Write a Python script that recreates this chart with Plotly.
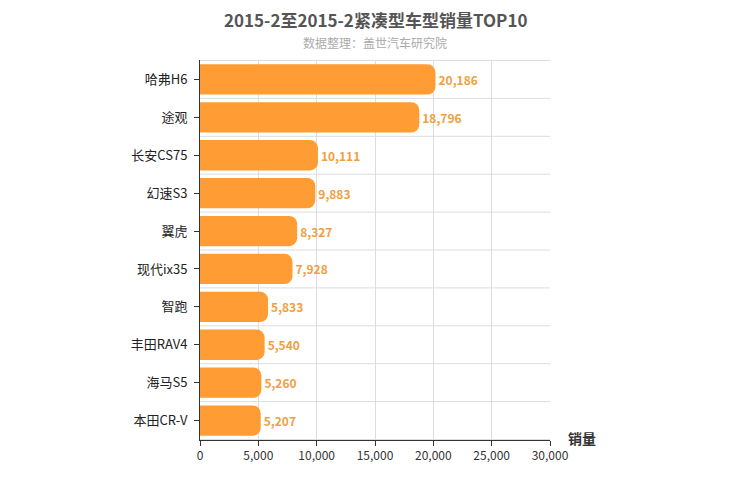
import plotly.graph_objects as go

categories = ["哈弗H6", "途观", "长安CS75", "幻速S3", "翼虎", "现代ix35", "智跑", "丰田RAV4", "海马S5", "本田CR-V"]
values = [20186, 18796, 10111, 9883, 8327, 7928, 5833, 5540, 5260, 5207]
x_ticks = [0, 5000, 10000, 15000, 20000, 25000, 30000]

font = "Noto Sans CJK SC"
fig = go.Figure(go.Bar(
    y=categories, x=values, orientation="h",
    marker=dict(color="#ff9c33", line=dict(width=0)),
    width=0.8,
    text=[f"<b>{v:,}</b>" for v in values], textposition="outside",
    textfont=dict(color="#f0a040", size=12, family=font),
    cliponaxis=False,
))
shapes = []
for i in range(len(categories) + 1):
    shapes.append(dict(type="line", xref="paper", x0=0, x1=1, yref="y", y0=i - 0.5, y1=i - 0.5,
                       line=dict(color="#dddddd", width=1), layer="below"))
PH = 380
fig.update_layout(
    width=750, height=500,
    margin=dict(l=192, r=208, t=52, b=68),
    plot_bgcolor="white", paper_bgcolor="white",
    barcornerradius=8,
    shapes=shapes,
    showlegend=False,
    font=dict(family=font, color="#333"),
    annotations=[
        dict(text="<b>2015-2至2015-2紧凑型车型销量TOP10</b>", x=0.5, y=1 + (60 - 19) / PH, xref="paper", yref="paper",
             xanchor="center", yanchor="middle", showarrow=False, font=dict(size=17, color="#555")),
        dict(text="数据整理：盖世汽车研究院", x=0.5, y=1 + (60 - 42) / PH, xref="paper", yref="paper",
             xanchor="center", yanchor="middle", showarrow=False, font=dict(size=12, color="#aaa")),
        dict(text="<b>销量</b>", x=(582 - 200) / 350, y=(440 - 438) / PH, xref="paper", yref="paper",
             xanchor="center", yanchor="middle", showarrow=False, font=dict(size=14, color="#333")),
    ],
    xaxis=dict(range=[0, 30000], tickvals=x_ticks, tickformat=",", showgrid=True, gridcolor="#dddddd",
               zeroline=False, showline=True, linecolor="#333", ticks="outside", ticklen=5,
               tickcolor="#333", tickfont=dict(size=12), automargin=False),
    yaxis=dict(autorange="reversed", showgrid=False, showline=True, linecolor="#333",
               ticks="outside", ticklen=5, tickcolor="#333", automargin=False,
               tickfont=dict(size=13, color="#222")),
)
fig.update_yaxes(ticklabelstandoff=4)
fig.write_html("out.html")
